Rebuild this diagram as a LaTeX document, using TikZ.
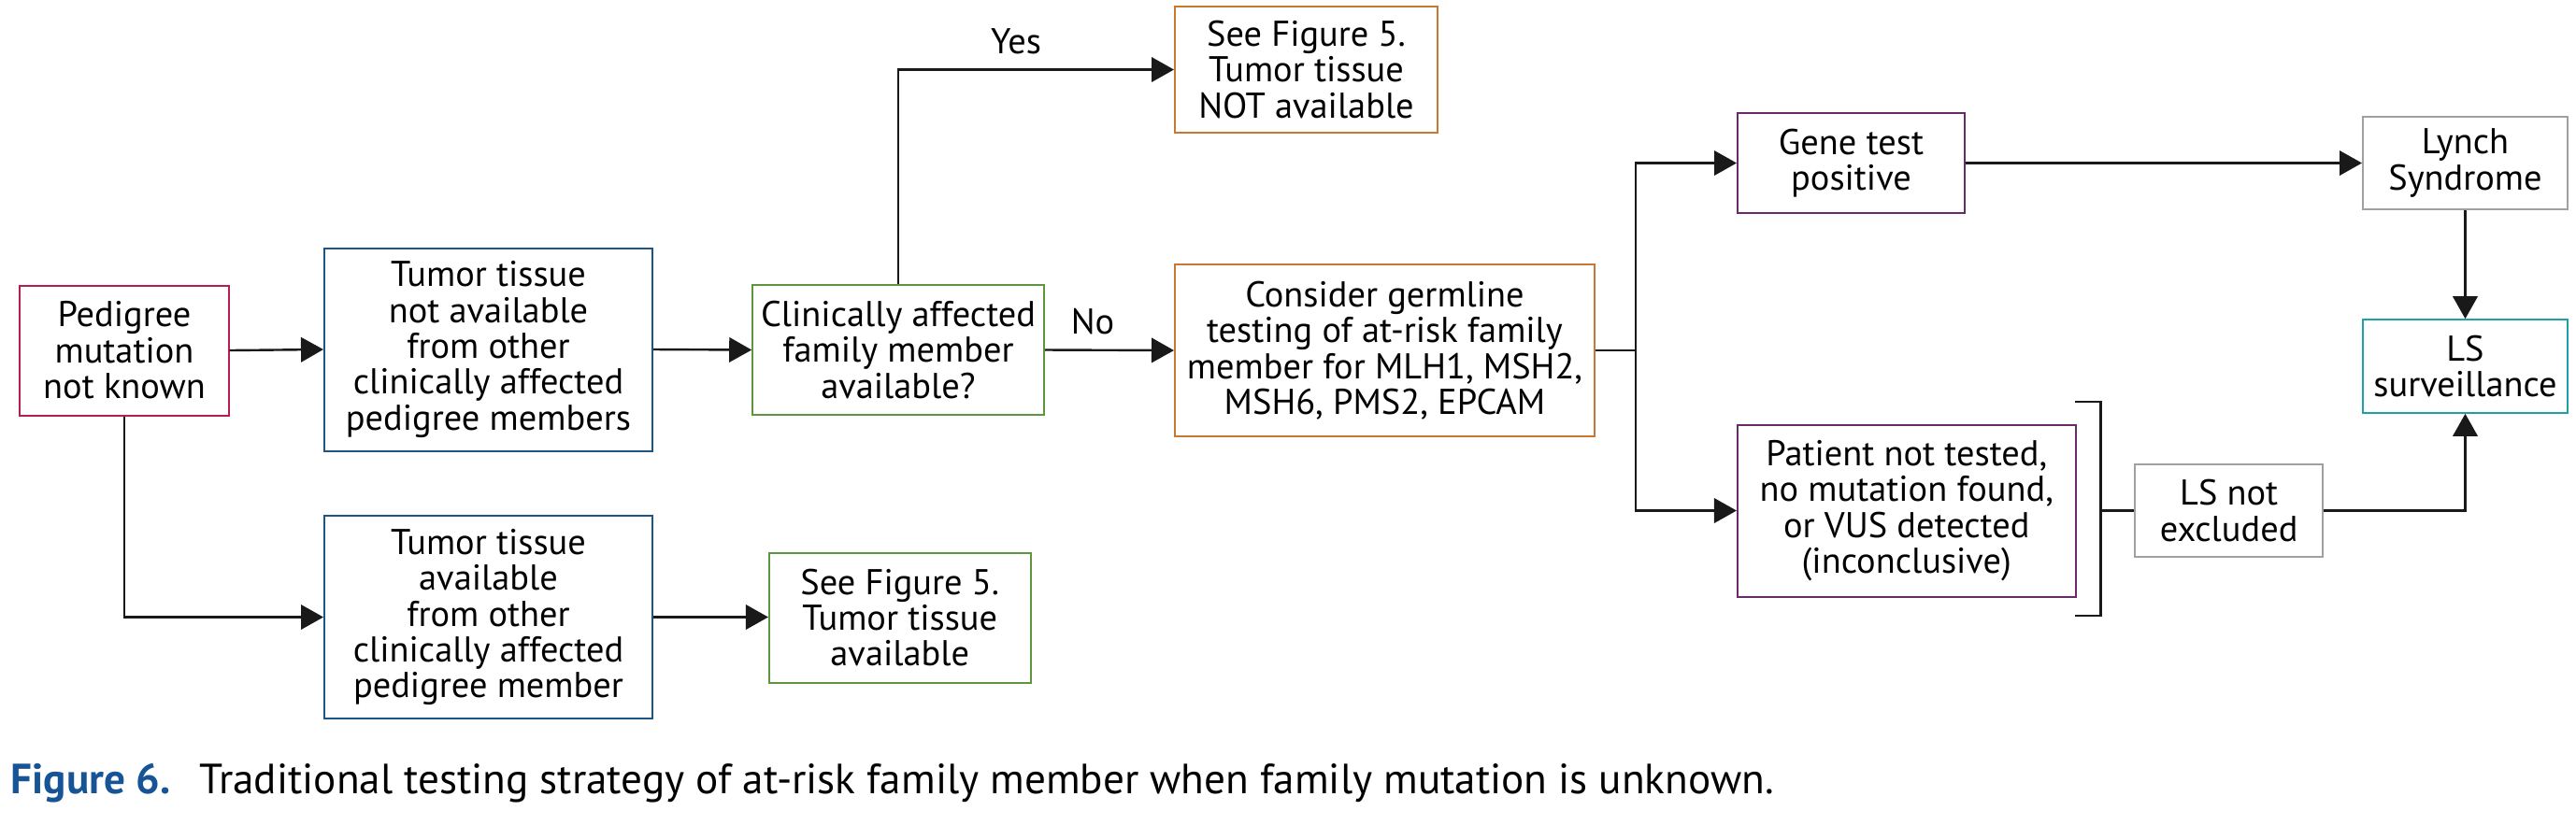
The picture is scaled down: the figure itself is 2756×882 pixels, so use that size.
\documentclass[tikz,border=0pt]{standalone}
\usepackage{fontspec}
\setmainfont{PT Sans}
\usetikzlibrary{arrows.meta}
\definecolor{cped}{RGB}{180,30,80}
\definecolor{cblue}{RGB}{30,85,135}
\definecolor{cgreen}{RGB}{94,150,64}
\definecolor{corange}{RGB}{200,120,50}
\definecolor{cpurple}{RGB}{106,42,106}
\definecolor{cgray}{RGB}{160,160,160}
\definecolor{cteal}{RGB}{30,160,168}
\definecolor{cfig}{RGB}{22,84,150}
\newcommand\boxfont{\fontsize{9.6}{9.6}\selectfont}
\newcommand\capfont{\fontsize{11.3}{13}\selectfont}
\begin{document}
\begin{tikzpicture}[x=0.25pt,y=-0.25pt,
  box/.style={draw, line width=0.5pt, rectangle, inner sep=0pt, align=center, font=\boxfont, fill=white},
  conn/.style={line width=0.6pt, draw=black!90},
  arr/.style={conn, -{Triangle[length=6pt,width=6.6pt]}},
  lbl/.style={font=\boxfont, inner sep=0pt}]
\useasboundingbox (0,0) rectangle (2756,882);

\node[box, draw=cped, minimum width=55.8pt, minimum height=34.75pt] (ped) at (133,375) {Pedigree\\mutation\\not known};
\node[box, draw=cblue, minimum width=87.75pt, minimum height=54.25pt] (tna) at (522.5,374) {Tumor tissue\\not available\\from other\\clinically affected\\pedigree members};
\node[box, draw=cgreen, minimum width=77.9pt, minimum height=34.75pt] (clin) at (961,374.5) {Clinically affected\\family member\\available?};
\node[box, draw=corange, minimum width=70.25pt, minimum height=33.9pt] (sfn) at (1397.5,74.5) {See Figure 5.\\Tumor tissue\\NOT available};
\node[box, draw=corange, minimum width=112.25pt, minimum height=46pt] (cons) at (1481.5,375) {Consider germline\\testing of at-risk family\\member for MLH1, MSH2,\\MSH6, PMS2, EPCAM};
\node[box, draw=cpurple, minimum width=60.75pt, minimum height=26.75pt] (gtp) at (1980.5,174.5) {Gene test\\positive};
\node[box, draw=cgray, minimum width=54.75pt, minimum height=24.85pt] (lyn) at (2637.5,174.5) {Lynch\\Syndrome};
\node[box, draw=cteal, minimum width=54.75pt, minimum height=24.9pt] (lss) at (2637.5,392) {LS\\surveillance};
\node[box, draw=cpurple, minimum width=90.4pt, minimum height=46pt] (pat) at (2039.75,546.5) {Patient not tested,\\no mutation found,\\or VUS detected\\(inconclusive)};
\node[box, draw=cgray, minimum width=50.35pt, minimum height=24.75pt] (lsn) at (2384.7,546.5) {LS not\\excluded};
\node[box, draw=cblue, minimum width=87.75pt, minimum height=54.25pt] (ta) at (522.5,660.5) {Tumor tissue\\available\\from other\\clinically affected\\pedigree member};
\node[box, draw=cgreen, minimum width=69.9pt, minimum height=34.75pt] (sfa) at (962.75,661) {See Figure 5.\\Tumor tissue\\available};

\node[lbl] (yes) at (1087,44) {Yes};
\node[lbl] (no) at (1169,344) {No};

\draw[arr] (ped.east) -- (tna.west);
\draw[arr] (tna.east) -- (clin.west);
\draw[arr] (clin.north) |- (sfn.west);
\draw[arr] (clin.east) -- (cons.west);
\coordinate (j) at (1750,375);
\draw[conn] (cons.east) -- (j);
\draw[arr] (j) |- (gtp.west);
\draw[arr] (j) |- (pat.west);
\draw[arr] (gtp.east) -- (lyn.west);
\draw[arr] (lyn.south) -- (lss.north);
\draw[arr] (ped.south) |- (ta.west);
\draw[arr] (ta.east) -- (ta.east -| sfa.west);

\coordinate (b1) at (2220,430);
\coordinate (b2) at (2247.5,430);
\coordinate (b3) at (2247.5,659);
\coordinate (b4) at (2220,659);
\coordinate (bm) at (2247.5,546.5);
\draw[conn] (b1) -- (b2) -- (b3) -- (b4);
\draw[conn] (bm) -- (lsn.west);
\draw[arr] (lsn.east) -| (lss.south);

\node[anchor=base west, inner sep=0pt, font=\capfont\bfseries, text=cfig] (figlbl) at (11,849) {Figure 6.};
\node[anchor=base west, inner sep=0pt, font=\capfont] (cap) at (213,849) {Traditional testing strategy of at-risk family member when family mutation is unknown.};
\end{tikzpicture}
\end{document}
